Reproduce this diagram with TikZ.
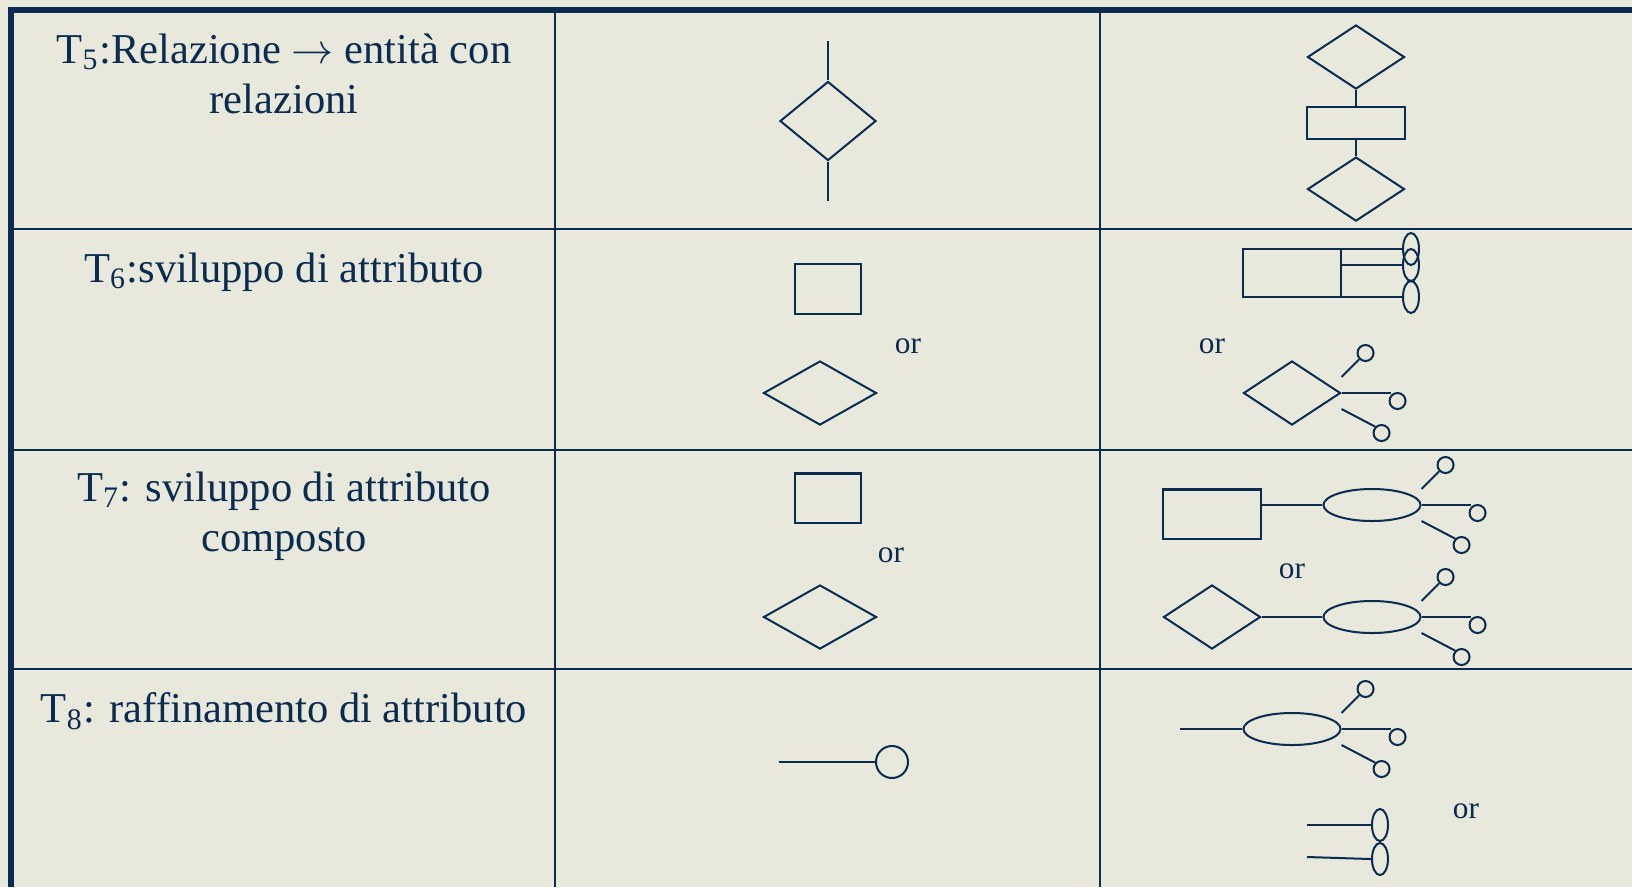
\documentclass[tikz,border=0pt]{standalone}
\usepackage{fontspec}
\setmainfont{Liberation Serif}
\usepackage{tikz}
\usetikzlibrary{shapes.geometric, positioning}
\definecolor{Navy} {HTML}{0B2B4F}
\definecolor{Paper}{HTML}{E8E8DC}
\tikzset{
  ent/.style={draw=Navy, line width=0.57pt, inner sep=0pt, minimum width=0.97cm, minimum height=0.48cm},
  rel/.style={diamond, draw=Navy, line width=0.57pt, inner sep=0pt, minimum width=0.97cm, minimum height=0.64cm},
  att/.style={circle, draw=Navy, line width=0.57pt, inner sep=0pt, minimum size=0.16cm},
  comp/.style={ellipse, draw=Navy, line width=0.57pt, inner sep=0pt, minimum width=0.97cm, minimum height=0.32cm},
  lnk/.style={draw=Navy, line width=0.57pt},
  txt/.style={text=Navy, font=\fontsize{12.1}{14.2}\selectfont, align=center, inner sep=0pt},
  orl/.style={text=Navy, font=\fontsize{8.9}{10}\selectfont, inner sep=0pt},
  grid/.style={draw=Navy, line width=0.77pt},
  rim/.style={draw=Navy, line width=1.65pt}
}

\begin{document}
\begin{tikzpicture}[x=0.01cm, y=-0.01cm]
  \fill[Paper] (0,0) rectangle (1632,887);
  \useasboundingbox (0,0) rectangle (1632,887);
  % table
  \draw[grid] (11,229)--(1632,229) (11,450)--(1632,450) (11,669)--(1632,669);
  \draw[grid] (555,10)--(555,887) (1100,10)--(1100,887);
  \draw[rim] (1632,10)--(11,10)--(11,887);
  % first column
  \node[txt, anchor=north] (t5) at (284,33) {T\textsubscript{5}:Relazione $\rightarrow$ entità con\\relazioni};
  \node[txt, anchor=north] (t6) at (284,252) {T\textsubscript{6}:sviluppo di attributo};
  \node[txt, anchor=north] (t7) at (284,471) {T\textsubscript{7}: sviluppo di attributo\\composto};
  \node[txt, anchor=north] (t8) at (284,692) {T\textsubscript{8}: raffinamento di attributo};

  % T5
  \node[rel, minimum width=0.96cm, minimum height=0.79cm] (r5a) at (828,121) {};
  \coordinate (r5up) at (828,41); \coordinate (r5dn) at (828,201);
  \draw[lnk] (r5up)--(r5a.north); \draw[lnk] (r5a.south)--(r5dn);
  \node[rel] (r5b) at (1356,57) {};
  \node[ent, minimum height=0.32cm, below=0.16cm of r5b] (e5) {};
  \node[rel, below=0.16cm of e5] (r5c) {};
  \draw[lnk] (r5b.south)--(e5.north); \draw[lnk] (e5.south)--(r5c.north);

  % T6
  \node[ent, minimum width=0.65cm, minimum height=0.49cm] (e6a) at (828,289) {};
  \node[rel, minimum width=1.13cm] (r6a) at (820,393) {};
  \node[orl] (or6a) at (908,346) {or};
  \node[ent] (e6b) at (1292,273) {};
  \node[comp, minimum width=0.16cm] (k6a) at (1411,249) {};
  \node[comp, minimum width=0.16cm] (k6b) at (1411,265) {};
  \node[comp, minimum width=0.16cm] (k6c) at (1411,297) {};
  \draw[lnk] (k6a.west -| e6b.east)--(k6a.west); \draw[lnk] (k6b.west -| e6b.east)--(k6b.west);
  \draw[lnk] (k6c.west -| e6b.east)--(k6c.west);
  \node[orl] (or6b) at (1212,346) {or};
  \node[rel] (r6b) at (1292,393) {};
  \node[att] (a6a) at ([shift={(24,-40)}]r6b.east) {};
  \node[att] (a6b) at ([shift={(56,8)}]r6b.east) {};
  \node[att] (a6c) at ([shift={(40,40)}]r6b.east) {};
  \draw[lnk] ([yshift=0.16cm]r6b.east)--(a6a.south west); \draw[lnk] (r6b.east)--(r6b.east -| a6b.north west);
  \draw[lnk] ([yshift=-0.16cm]r6b.east)--(a6c.north west);

  % T7
  \node[ent, minimum width=0.65cm, minimum height=0.49cm] (e7a) at (828,498) {};
  \node[rel, minimum width=1.13cm] (r7a) at (820,617) {};
  \node[orl] (or7a) at (891,555) {or};
  \node[ent, minimum height=0.49cm] (e7b) at (1212,514) {};
  \node[comp] (k7a) at (1372,505) {};
  \draw[lnk] (k7a.west -| e7b.east)--(k7a.west);
  \node[att] (a7a) at ([shift={(24,-40)}]k7a.east) {};
  \node[att] (a7b) at ([shift={(56,8)}]k7a.east) {};
  \node[att] (a7c) at ([shift={(40,40)}]k7a.east) {};
  \draw[lnk] ([yshift=0.16cm]k7a.east)--(a7a.south west); \draw[lnk] (k7a.east)--(k7a.east -| a7b.north west);
  \draw[lnk] ([yshift=-0.16cm]k7a.east)--(a7c.north west);
  \node[orl] (or7b) at (1292,571) {or};
  \node[rel] (r7b) at (1212,617) {};
  \node[comp] (k7b) at (1372,617) {};
  \draw[lnk] (r7b.east)--(k7b.west);
  \node[att] (a7d) at ([shift={(24,-40)}]k7b.east) {};
  \node[att] (a7e) at ([shift={(56,8)}]k7b.east) {};
  \node[att] (a7f) at ([shift={(40,40)}]k7b.east) {};
  \draw[lnk] ([yshift=0.16cm]k7b.east)--(a7d.south west); \draw[lnk] (k7b.east)--(k7b.east -| a7e.north west);
  \draw[lnk] ([yshift=-0.16cm]k7b.east)--(a7f.north west);

  % T8
  \node[att, minimum size=0.32cm] (a8) at (892,762) {};
  \coordinate (s8) at (779,762);
  \draw[lnk] (s8)--(a8.west);
  \node[comp] (k8) at (1292,729) {};
  \coordinate (s8b) at (1180,729);
  \draw[lnk] (s8b)--(k8.west);
  \node[att] (a8a) at ([shift={(24,-40)}]k8.east) {};
  \node[att] (a8b) at ([shift={(56,8)}]k8.east) {};
  \node[att] (a8c) at ([shift={(40,40)}]k8.east) {};
  \draw[lnk] ([yshift=0.16cm]k8.east)--(a8a.south west); \draw[lnk] (k8.east)--(k8.east -| a8b.north west);
  \draw[lnk] ([yshift=-0.16cm]k8.east)--(a8c.north west);
  \node[orl] (or8) at (1466,811) {or};
  \node[comp, minimum width=0.16cm] (k8a) at (1380,825) {};
  \node[comp, minimum width=0.16cm, below=0cm of k8a] (k8b) {};
  \coordinate (s8c) at (1307,825); \coordinate (s8d) at (1307,857);
  \draw[lnk] (s8c)--(k8a.west); \draw[lnk] (s8d)--(k8b.west);
\end{tikzpicture}
\end{document}
